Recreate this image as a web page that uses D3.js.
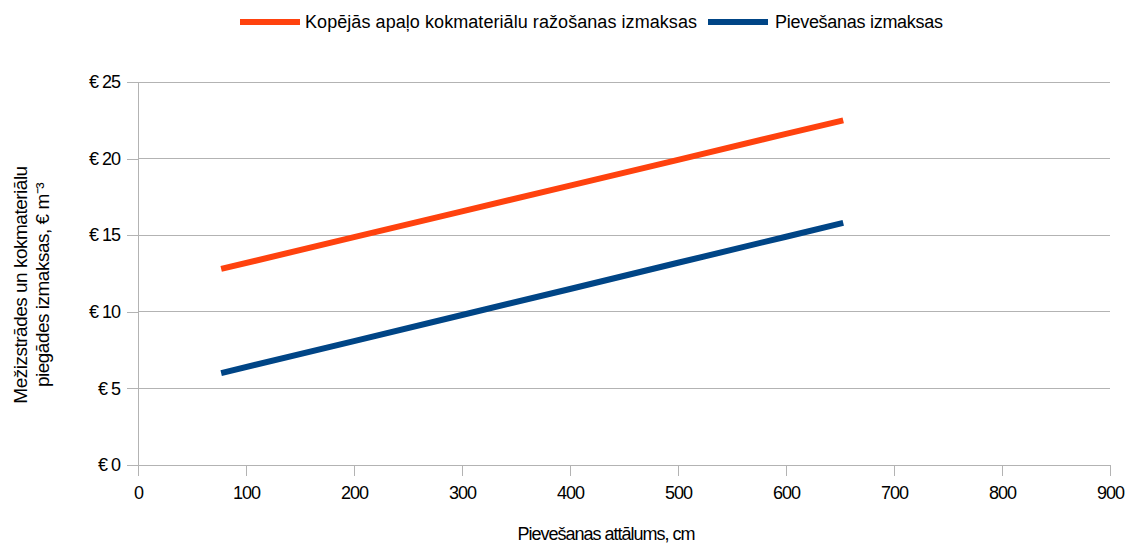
<!DOCTYPE html>
<html>
<head>
<meta charset="utf-8">
<script src="https://cdn.jsdelivr.net/npm/d3@7"></script>
<style>
  html, body { margin: 0; padding: 0; background: #fff; }
  svg { display: block; font-family: "Liberation Sans", Arial, sans-serif; }
</style>
</head>
<body>
<svg id="chart" width="1129" height="546"></svg>
<script>
// Forwarding distance and cost per cubic metre
const distance = [77, 200, 300, 400, 500, 600, 653];
const totalCost = [12.8, 14.87, 16.55, 18.24, 19.92, 21.61, 22.5];
const forwardingCost = [6.0, 8.09, 9.79, 11.49, 13.2, 14.9, 15.8];

const seriesNames = [
  "Kopējās apaļo kokmateriālu ražošanas izmaksas",
  "Pievešanas izmaksas"
];
const seriesColors = ["#ff420e", "#004586"];

const xTicks = [0, 100, 200, 300, 400, 500, 600, 700, 800, 900];
const yTicks = [0, 5, 10, 15, 20, 25];

const xTitle = "Pievešanas attālums, cm";
const yTitleLines = ["Mežizstrādes un kokmateriālu", "piegādes izmaksas, € m⁻³"];

const svg = d3.select("#chart");
const margin = { left: 138, right: 1110, top: 82, bottom: 465 };

const x = d3.scaleLinear().domain([0, 900]).range([margin.left, margin.right]);
const y = d3.scaleLinear().domain([0, 25]).range([margin.bottom, margin.top]);

const gridColor = "#b3b3b3";

// horizontal grid
svg.append("g")
  .selectAll("line")
  .data(yTicks)
  .join("line")
  .attr("x1", margin.left).attr("x2", margin.right)
  .attr("y1", d => y(d)).attr("y2", d => y(d))
  .attr("stroke", gridColor).attr("stroke-width", 1)
  .attr("shape-rendering", "crispEdges");

// y axis
const yAxis = svg.append("g")
  .attr("transform", `translate(${margin.left},0)`)
  .call(d3.axisLeft(y).tickValues(yTicks).tickSize(11).tickPadding(7)
    .tickFormat(d => "€ " + d));
yAxis.select(".domain").attr("stroke", gridColor).attr("shape-rendering", "crispEdges");
yAxis.selectAll(".tick line").attr("stroke", gridColor).attr("shape-rendering", "crispEdges");
yAxis.selectAll(".tick text")
  .attr("fill", "#000").attr("font-size", 18).attr("letter-spacing", "-1px")
  .attr("font-family", "Liberation Sans, Arial, sans-serif");

// x axis
const xAxis = svg.append("g")
  .attr("transform", `translate(0,${margin.bottom})`)
  .call(d3.axisBottom(x).tickValues(xTicks).tickSize(11).tickPadding(10)
    .tickFormat(d3.format("d")));
xAxis.select(".domain").attr("stroke", gridColor).attr("shape-rendering", "crispEdges");
xAxis.selectAll(".tick line").attr("stroke", gridColor).attr("shape-rendering", "crispEdges");
xAxis.selectAll(".tick text")
  .attr("fill", "#000").attr("font-size", 18).attr("letter-spacing", "-1px")
  .attr("font-family", "Liberation Sans, Arial, sans-serif");

// series lines
const line = d3.line().x(d => x(d[0])).y(d => y(d[1]));
const series = [totalCost, forwardingCost];
series.forEach((vals, i) => {
  svg.append("path")
    .datum(distance.map((d, j) => [d, vals[j]]))
    .attr("d", line)
    .attr("fill", "none")
    .attr("stroke", seriesColors[i])
    .attr("stroke-width", 6);
});

// legend
const legendItems = [
  { x: 240, textX: 305, width: 392 },
  { x: 708, textX: 775, width: 168 }
];
legendItems.forEach((it, i) => {
  svg.append("line")
    .attr("x1", it.x).attr("x2", it.x + 60)
    .attr("y1", 22).attr("y2", 22)
    .attr("stroke", seriesColors[i]).attr("stroke-width", 6);
  svg.append("text")
    .attr("x", it.textX).attr("y", 28)
    .attr("font-size", 18)
    .attr("textLength", it.width).attr("lengthAdjust", "spacing")
    .text(seriesNames[i]);
});

// x title
svg.append("text")
  .attr("x", 606).attr("y", 540)
  .attr("text-anchor", "middle")
  .attr("font-size", 18).attr("letter-spacing", "-1px")
  .text(xTitle);

// y title (two lines, rotated)
const yTitle = svg.append("text")
  .attr("transform", "translate(27,285) rotate(-90)")
  .attr("text-anchor", "middle")
  .attr("font-size", 19).attr("letter-spacing", "-0.5px");
yTitle.append("tspan").attr("x", 0).attr("dy", 0).text(yTitleLines[0]);
yTitle.append("tspan").attr("x", 0).attr("dy", 22).text(yTitleLines[1]);
</script>
</body>
</html>
